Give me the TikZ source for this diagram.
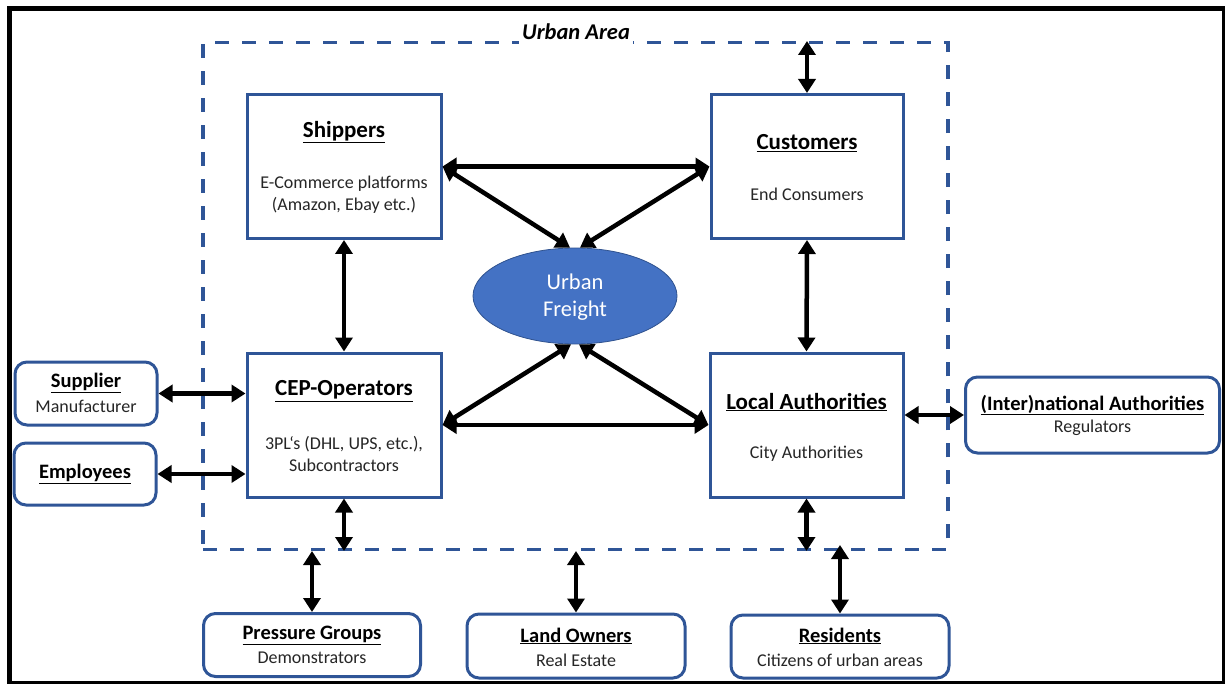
\documentclass[tikz,border=0pt]{standalone}
\usepackage{fontspec}
\setmainfont{Carlito}
\usetikzlibrary{shapes.geometric,arrows.meta,calc}
\definecolor{bordblue}{HTML}{2F5597}
\definecolor{fillblue}{HTML}{4472C4}
\definecolor{ellbord}{HTML}{2F528F}
\definecolor{subgray}{HTML}{262626}
\begin{document}
\begin{tikzpicture}[x=1pt,y=-1pt,
  mainbox/.style={draw=bordblue,line width=3pt,fill=white,inner sep=0pt,rectangle},
  sidebox/.style={draw=bordblue,line width=3pt,rounded corners=12pt,fill=white,inner sep=0pt,rectangle},
  headA/.style={font=\fontsize{23}{27}\selectfont\bfseries,inner sep=0pt},
  headB/.style={font=\fontsize{20.5}{24}\selectfont\bfseries,inner sep=0pt},
  subtxt/.style={font=\fontsize{18}{21.5}\selectfont,text=subgray,align=center,inner sep=0pt},
  dbl/.style={line width=4.5pt,{Triangle[length=14pt,width=17pt]}-{Triangle[length=14pt,width=17pt]}},
  urbanbox/.style={draw=bordblue,line width=3.5pt,dash pattern=on 14pt off 13pt,rectangle,inner sep=0pt},
]
\useasboundingbox (0,0) rectangle (1225,684);
\fill[white] (0,0) rectangle (1225,684);
\draw[line width=5pt] (9.5,9) rectangle (1224.5,683.5);

% urban area
\node[urbanbox,minimum width=745pt,minimum height=506.5pt] (ua) at (575.5,296) {};
\node[font=\fontsize{22.5}{26}\selectfont\bfseries\itshape,fill=white,inner xsep=3pt,inner ysep=3.5pt,anchor=base] (uat) at (576,40) {Urban Area};

% main boxes
\node[mainbox,minimum width=194pt,minimum height=144pt] (ship) at (344,166.5) {};
\node[mainbox,minimum width=192pt,minimum height=144pt] (cus) at (807,166.5) {};
\node[mainbox,minimum width=194pt,minimum height=144pt] (cep) at (344,425) {};
\node[mainbox,minimum width=193pt,minimum height=144pt] (loc) at (806.5,425) {};
\node[ellipse,draw=ellbord,line width=0.8pt,fill=fillblue,minimum width=204pt,minimum height=96pt,inner sep=0pt] (fr) at (575,296) {};

\node[headA] (shipH) at (344,132) {\underline{Shippers}};
\node[subtxt] (shipS) at (344,194.5) {E-Commerce platforms\\(Amazon, Ebay etc.)};
\node[headA] (cusH) at (807,143) {\underline{Customers}};
\node[subtxt] (cusS) at (807,194) {End Consumers};
\node[headA] (cepH) at (344,391) {\underline{CEP-Operators}};
\node[subtxt] (cepS) at (344,454) {3PL‘s (DHL, UPS, etc.),\\Subcontractors};
\node[headA] (locH) at (806.5,402) {\underline{Local Authorities}};
\node[subtxt] (locS) at (806.5,454) {City Authorities};
\node[font=\fontsize{22.5}{27}\selectfont,text=white,align=center,inner sep=0pt] (frT) at (575,297) {Urban\\Freight};

% side boxes
\node[sidebox,minimum width=142pt,minimum height=63pt] (sup) at (86,393.5) {};
\node[sidebox,minimum width=142pt,minimum height=62pt] (emp) at (85,474) {};
\node[sidebox,minimum width=254pt,minimum height=76pt] (intl) at (1092.5,415) {};
\node[sidebox,minimum width=217pt,minimum height=63pt] (pg) at (312,645) {};
\node[sidebox,minimum width=218pt,minimum height=64pt] (lo) at (576,646) {};
\node[sidebox,minimum width=218pt,minimum height=63pt] (res) at (840,646.5) {};

\node[headB] (supH) at (86,383) {\underline{Supplier}};
\node[subtxt] (supS) at (86,406) {Manufacturer};
\node[headB] (empH) at (85,474) {\underline{Employees}};
\node[headB] (intlH) at (1092.5,405) {\underline{(Inter)national Authorities}};
\node[subtxt] (intlS) at (1092.5,428) {Regulators};
\node[headB] (pgH) at (312,635) {\underline{Pressure Groups}};
\node[subtxt] (pgS) at (312,658) {Demonstrators};
\node[headB] (loH) at (576,636) {\underline{Land Owners}};
\node[subtxt] (loS) at (576,660) {Real Estate};
\node[headB] (resH) at (840,636) {\underline{Residents}};
\node[subtxt] (resS) at (840,660) {Citizens of urban areas};

% connectors
\draw[dbl] (ship.east) -- (cus.west);
\draw[dbl] (ship.east) -- ([xshift=-5pt]fr.north);
\draw[dbl] (cus.west) -- ([xshift=5pt]fr.north);
\draw[dbl] (cep.east) -- (loc.west);
\draw[dbl] (cep.east) -- ([xshift=-4pt]fr.south);
\draw[dbl] (loc.west) -- ([xshift=4pt]fr.south);
\draw[dbl] (ship.south) -- (cep.north);
\draw[dbl] (cus.south) -- (loc.north);
\draw[dbl] (cus.north) -- (cus.north |- ua.north);
\draw[dbl] (cep.south) -- (cep.south |- ua.south);
\draw[dbl] (loc.south) -- (loc.south |- ua.south);
\draw[dbl] (pg.north) -- (pg.north |- ua.south);
\draw[dbl] (lo.north) -- (lo.north |- ua.south);
\draw[dbl] (res.north) -- ([yshift=6pt]res.north |- ua.south);
\draw[dbl] (sup.east) -- (sup.east -| cep.west);
\draw[dbl] (emp.east) -- (emp.east -| cep.west);
\draw[dbl] (intl.west) -- (intl.west -| loc.east);
\end{tikzpicture}
\end{document}
